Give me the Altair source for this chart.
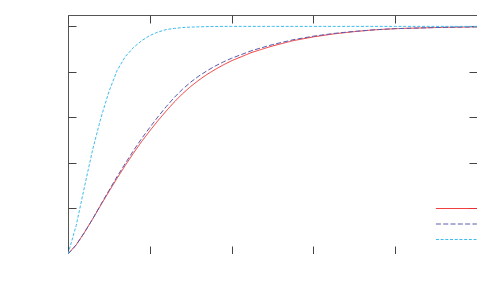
import altair as alt
import pandas as pd

# x positions sampled along the curves
xs = [0.0, 0.1, 0.2, 0.3, 0.4, 0.5, 0.6, 0.7, 0.8, 0.9, 1.0, 1.1, 1.2, 1.3, 1.4, 1.5,
      1.6, 1.7, 1.8, 1.9, 2.0, 2.25, 2.5, 2.75, 3.0, 3.25, 3.5, 3.75, 4.0, 4.5, 5.0]

# red solid curve
red_vals = [0.0, 0.040, 0.094, 0.153, 0.214, 0.274, 0.333, 0.389, 0.443, 0.494, 0.541,
            0.586, 0.628, 0.668, 0.704, 0.736, 0.764, 0.789, 0.811, 0.831, 0.849, 0.886,
            0.914, 0.937, 0.954, 0.967, 0.977, 0.985, 0.990, 0.995, 0.998]

# blue dashed curve
blue_vals = [0.0, 0.040, 0.094, 0.153, 0.217, 0.279, 0.340, 0.398, 0.454, 0.507, 0.556,
             0.603, 0.647, 0.688, 0.724, 0.755, 0.782, 0.805, 0.826, 0.844, 0.860, 0.894,
             0.920, 0.941, 0.957, 0.969, 0.978, 0.985, 0.990, 0.995, 0.998]

# cyan dashed curve
cyan_vals = [0.0, 0.125, 0.293, 0.456, 0.595, 0.713, 0.806, 0.867, 0.907, 0.937, 0.960,
             0.975, 0.986, 0.991, 0.995, 0.997, 0.998, 0.999, 0.9995, 1.0, 1.0, 1.0,
             1.0, 1.0, 1.0, 1.0, 1.0, 1.0, 1.0, 1.0, 1.0]

series_names = ["series 1", "series 2", "series 3"]
series_colors = ["#f03232", "#5a5aae", "#3cbcee"]
series_dashes = [[1, 0], [5, 2.3], [3, 1.7]]

x_ticks = [0, 1, 2, 3, 4, 5]
y_ticks = [0, 0.2, 0.4, 0.6, 0.8, 1.0]

rows = []
for name, vals in zip(series_names, [red_vals, blue_vals, cyan_vals]):
    for x, y in zip(xs, vals):
        rows.append({"x": x, "y": y, "series": name})
df = pd.DataFrame(rows)

x_scale = alt.Scale(domain=[0, 5], nice=False, zero=False)
y_scale = alt.Scale(domain=[0, 1.05], nice=False, zero=False)

common_axis = dict(domain=False, labels=False, grid=False, ticks=True, tickSize=8,
                   offset=-8, tickColor="#444444", tickWidth=1, title=None)

legend_opts = dict(
    title=None, orient="none", legendX=380.4, legendY=185.5, padding=0,
    symbolType="M-2.73,0H2.73", symbolSize=225, symbolStrokeWidth=1,
    labelExpr="''", labelFontSize=1, rowPadding=5.5, labelOffset=0,
)

base = alt.Chart(df)

main = base.mark_line(strokeWidth=1, clip=True).encode(
    x=alt.X("x:Q", scale=x_scale, axis=alt.Axis(orient="bottom", values=x_ticks, **common_axis)),
    y=alt.Y("y:Q", scale=y_scale, axis=alt.Axis(orient="left", values=y_ticks, **common_axis)),
    color=alt.Color(
        "series:N",
        scale=alt.Scale(domain=series_names, range=series_colors),
        legend=alt.Legend(**legend_opts),
    ),
    strokeDash=alt.StrokeDash(
        "series:N",
        scale=alt.Scale(domain=series_names, range=series_dashes),
        legend=alt.Legend(**legend_opts),
    ),
    order=alt.Order("x:Q"),
)

mirror = base.mark_line(opacity=0).encode(
    x=alt.X("x:Q", scale=x_scale, axis=alt.Axis(orient="top", values=x_ticks, **common_axis)),
    y=alt.Y("y:Q", scale=y_scale, axis=alt.Axis(orient="right", values=y_ticks, **common_axis)),
    detail="series:N",
)

chart = (
    alt.layer(main, mirror)
    .resolve_axis(x="independent", y="independent")
    .properties(
        width=409, height=239,
        autosize=alt.AutoSizeParams(type="none"),
        padding={"left": 60, "top": 7, "right": 0, "bottom": 0},
        background="white",
    )
    .configure_view(stroke="#555555", strokeWidth=1)
)

chart.save("out.html", embed_options={"renderer": "svg", "actions": False})
